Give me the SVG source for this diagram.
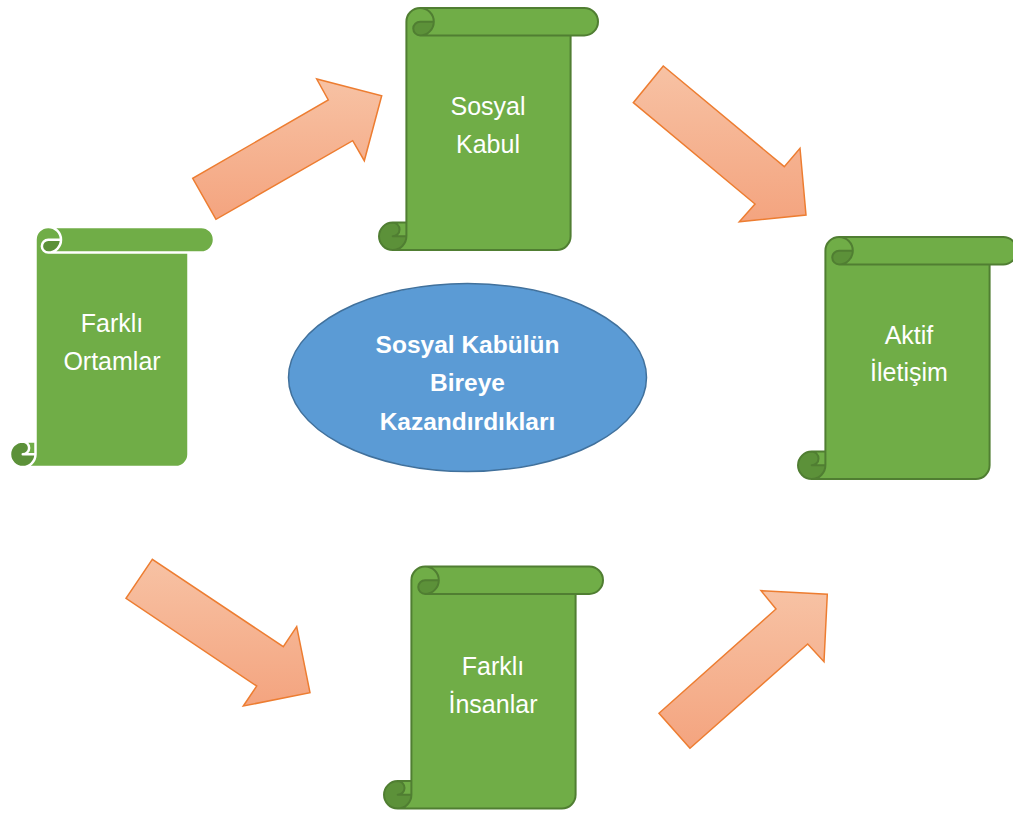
<svg xmlns="http://www.w3.org/2000/svg" xmlns:xlink="http://www.w3.org/1999/xlink" width="1013" height="814" viewBox="0 0 1013 814">
<style>
.fill{fill:#70AD47}
.dark{fill:#5C9139}
.edge{fill:none;stroke:#507E32;stroke-width:2;stroke-linejoin:round}
.edgew{fill:none;stroke:#FFFFFF;stroke-width:2.5;stroke-linejoin:round}
.lbl{font-family:"Liberation Sans",Arial,sans-serif;font-size:25px;fill:#FFFFFF;text-anchor:middle}
.blbl{font-family:"Liberation Sans",Arial,sans-serif;font-size:24.5px;font-weight:bold;fill:#FFFFFF;text-anchor:middle}
.arrow{fill:url(#ag);stroke:#ED7D31;stroke-width:1.5;stroke-linejoin:miter}
</style>
<defs>
<linearGradient id="ag" x1="0" y1="0" x2="0" y2="1">
<stop offset="0" stop-color="#F7C2A4"/>
<stop offset="1" stop-color="#F4A47F"/>
</linearGradient>
<g id="scroll">
<path class="fill" d="M 27.4 214.6 L 27.4 13.7 A 13.7 13.7 0 0 1 41.1 0 L 205.3 0 A 13.7 13.7 0 0 1 205.3 27.4 L 191.6 27.4 L 191.6 228.3 A 13.7 13.7 0 0 1 177.9 242 L 13.7 242 A 13.7 13.7 0 0 1 13.7 214.6 Z"/>
<path class="dark" d="M 54.8 13.7 A 13.7 13.7 0 0 1 41.1 27.4 A 6.85 6.85 0 0 1 41.1 13.7 Z M 27.4 228.3 A 13.7 13.7 0 1 1 13.7 214.6 A 6.85 6.85 0 0 1 13.7 228.3 Z"/>
<path class="edge" d="M 27.4 214.6 L 27.4 13.7 A 13.7 13.7 0 0 1 41.1 0 L 205.3 0 A 13.7 13.7 0 0 1 205.3 27.4 L 191.6 27.4 L 191.6 228.3 A 13.7 13.7 0 0 1 177.9 242 L 13.7 242 A 13.7 13.7 0 0 1 13.7 214.6 Z M 41.1 0 A 13.7 13.7 0 0 1 41.1 27.4 A 6.85 6.85 0 0 1 41.1 13.7 L 54.8 13.7 M 191.6 27.4 L 41.1 27.4 M 13.7 214.6 A 6.85 6.85 0 0 1 13.7 228.3 L 27.4 228.3 M 13.7 242 A 13.7 13.7 0 0 0 27.4 228.3 L 27.4 214.6"/>
</g>
</defs>
<rect width="1013" height="814" fill="#FFFFFF"/>
<g id="connectors">
<polygon class="arrow" points="216,219.3 192.7,178.3 328.3,100 316.7,79 381.7,95.7 364.3,160.7 352.7,140.7"/>
<polygon class="arrow" points="663.3,66 633.3,102.7 755,204 739.3,221.7 806,215 800,148.3 784.3,166.7"/>
<polygon class="arrow" points="152.3,559.3 126,598.3 256.7,686 243.3,706 310,692.7 296.7,626.7 283.3,646.7"/>
<polygon class="arrow" points="690,748.3 659,713.3 776,609 761,590.7 827.3,594.3 824,661.7 807.7,644"/>
</g>
<g id="node-farkli-ortamlar">
<g transform="translate(10,227)">
<path class="fill" d="M 25.5 214.5 L 25.5 12.75 A 12.75 12.75 0 0 1 38.25 0 L 191.25 0 A 12.75 12.75 0 0 1 191.25 25.5 L 178.5 25.5 L 178.5 227.25 A 12.75 12.75 0 0 1 165.75 240 L 12.75 240 A 12.75 12.75 0 0 1 12.75 214.5 Z"/>
<path class="dark" d="M 51 12.75 A 12.75 12.75 0 0 1 38.25 25.5 A 6.375 6.375 0 0 1 38.25 12.75 Z M 25.5 227.25 A 12.75 12.75 0 1 1 12.75 214.5 A 6.375 6.375 0 0 1 12.75 227.25 Z"/>
<path class="edgew" d="M 25.5 214.5 L 25.5 12.75 A 12.75 12.75 0 0 1 38.25 0 L 191.25 0 A 12.75 12.75 0 0 1 191.25 25.5 L 178.5 25.5 L 178.5 227.25 A 12.75 12.75 0 0 1 165.75 240 L 12.75 240 A 12.75 12.75 0 0 1 12.75 214.5 Z M 38.25 0 A 12.75 12.75 0 0 1 38.25 25.5 A 6.375 6.375 0 0 1 38.25 12.75 L 51 12.75 M 178.5 25.5 L 38.25 25.5 M 12.75 214.5 A 6.375 6.375 0 0 1 12.75 227.25 L 25.5 227.25 M 12.75 240 A 12.75 12.75 0 0 0 25.5 227.25 L 25.5 214.5"/>
</g>
<text class="lbl" x="112" y="331.5">Farklı</text>
<text class="lbl" x="112" y="370">Ortamlar</text>
</g>
<g id="node-sosyal-kabul">
<use xlink:href="#scroll" transform="translate(379,8)"/>
<text class="lbl" x="488" y="115">Sosyal</text>
<text class="lbl" x="488" y="153">Kabul</text>
</g>
<g id="node-aktif-iletisim">
<use xlink:href="#scroll" transform="translate(798,237)"/>
<text class="lbl" x="909" y="344">Aktif</text>
<text class="lbl" x="909" y="381">İletişim</text>
</g>
<g id="node-farkli-insanlar">
<use xlink:href="#scroll" transform="translate(384,566.5)"/>
<text class="lbl" x="493" y="675">Farklı</text>
<text class="lbl" x="493" y="713">İnsanlar</text>
</g>
<g id="node-center">
<ellipse cx="467.5" cy="377.5" rx="179" ry="94" fill="#5B9BD5" stroke="#41719C" stroke-width="1.5"/>
<text class="blbl" x="467.5" y="353">Sosyal Kabülün</text>
<text class="blbl" x="467.5" y="391">Bireye</text>
<text class="blbl" x="467.5" y="429.5">Kazandırdıkları</text>
</g>
</svg>
